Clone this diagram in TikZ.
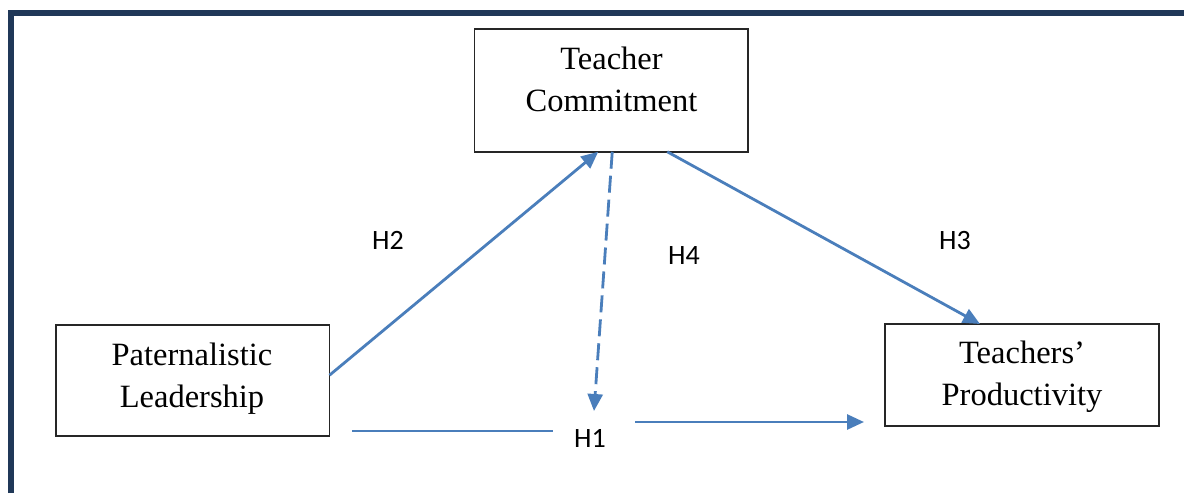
\documentclass[tikz,border=0pt]{standalone}
\usepackage{fontspec}
\setmainfont{Liberation Serif}
\newfontfamily\labelfont{Carlito}
\usetikzlibrary{arrows.meta}
\definecolor{navyframe}{RGB}{32,56,88}
\definecolor{pathblue}{RGB}{74,126,187}
\tikzset{
  varbox/.style={draw=black!85, line width=1.8pt, rectangle, inner sep=0pt, outer sep=0pt},
  vartext/.style={font=\fontsize{32.5}{42}\selectfont, align=center, inner sep=0pt},
  hyplabel/.style={font=\labelfont\fontsize{28}{33}\selectfont, inner sep=0pt},
  pathline/.style={draw=pathblue, line width=2.8pt},
  patharrow/.style={pathline, -{Triangle[length=17pt,width=15pt]}},
  moderator/.style={patharrow, dash pattern=on 17pt off 7pt}
}
\begin{document}
\begin{tikzpicture}[x=1pt, y=-1pt]
\useasboundingbox (0,0) rectangle (1184,493);
% frame along the top and left edges
\draw[navyframe, line width=5.4pt, line join=miter] (11,493) -- (11,13) -- (1184,13);

% variable boxes
\node[varbox, minimum width=273.5pt, minimum height=122.5pt] (tc) at (611.25,90.5) {};
\node[vartext] (tctext) at (611.5,79) {Teacher\\Commitment};
\node[varbox, minimum width=273.8pt, minimum height=111pt] (pl) at (192.6,380.2) {};
\node[vartext] (pltext) at (192,378.4) {Paternalistic\\Leadership};
\node[varbox, minimum width=274pt, minimum height=102pt] (tp) at (1022,375) {};
\node[vartext] (tptext) at (1022,377) {Teachers’\\Productivity};

% free ends of the direct and moderating paths
\coordinate (h4end) at (594,411);
\coordinate (h1a) at (352,431);
\coordinate (h1b) at (553,431);
\coordinate (h1c) at (635,422);
\coordinate (h1d) at (864,422);

% hypothesised paths
\draw[patharrow] ([yshift=5pt]pl.east) -- ([xshift=-13pt]tc.south);
\draw[patharrow] ([xshift=56pt]tc.south) -- ([xshift=-42pt]tp.north);
\draw[moderator] ([xshift=1pt]tc.south) -- (h4end);
\draw[pathline] (h1a) -- (h1b);
\draw[patharrow] (h1c) -- (h1d);

% hypothesis labels
\node[hyplabel] (h2) at (388,240) {H2};
\node[hyplabel] (h4) at (684,256) {H4};
\node[hyplabel] (h3) at (955,241) {H3};
\node[hyplabel] (h1) at (590,438) {H1};
\end{tikzpicture}
\end{document}
